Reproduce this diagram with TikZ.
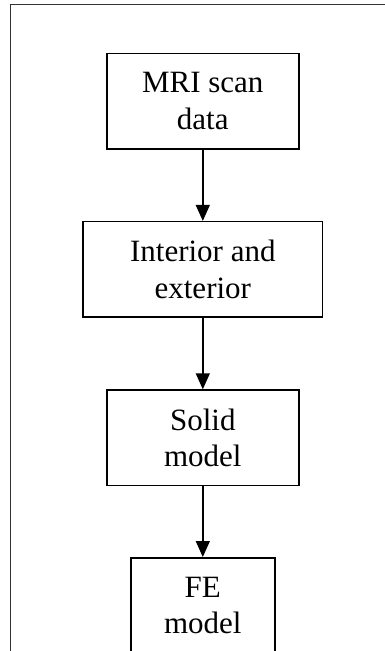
\documentclass[tikz,border=0pt]{standalone}
\usepackage{fontspec}
\setmainfont{Liberation Serif}
\usetikzlibrary{arrows.meta}
\tikzset{
  stepbox/.style={draw=black, line width=1.5pt, rectangle, inner sep=0pt,
    minimum height=95.5pt, align=center,
    font=\fontsize{31}{36.7}\selectfont},
  flow/.style={draw=black, line width=1.4pt,
    -{Triangle[length=16pt,width=14pt]}},
  frame/.style={draw=black!80, line width=1pt}
}
\begin{document}
\begin{tikzpicture}[x=1pt,y=-1pt]
  \useasboundingbox (0,0) rectangle (385,651);
  \clip (0,0) rectangle (385,651);
  % page frame (left and top edges)
  \draw[frame] (10.5,660) -- (10.5,4.5) -- (400,4.5);
  % process boxes
  \node[stepbox, minimum width=192pt]   (mri)   at (202.8,101.3) {MRI scan\\data};
  \node[stepbox, minimum width=239.5pt] (inext) at (202.8,269.4) {Interior and\\exterior};
  \node[stepbox, minimum width=192pt]   (solid) at (202.8,437.8) {Solid\\model};
  \node[stepbox, minimum width=144pt]   (fe)    at (202.8,605.5) {FE\\model};
  % connectors
  \draw[flow] (mri) -- (inext);
  \draw[flow] (inext) -- (solid);
  \draw[flow] (solid) -- (fe);
\end{tikzpicture}
\end{document}
